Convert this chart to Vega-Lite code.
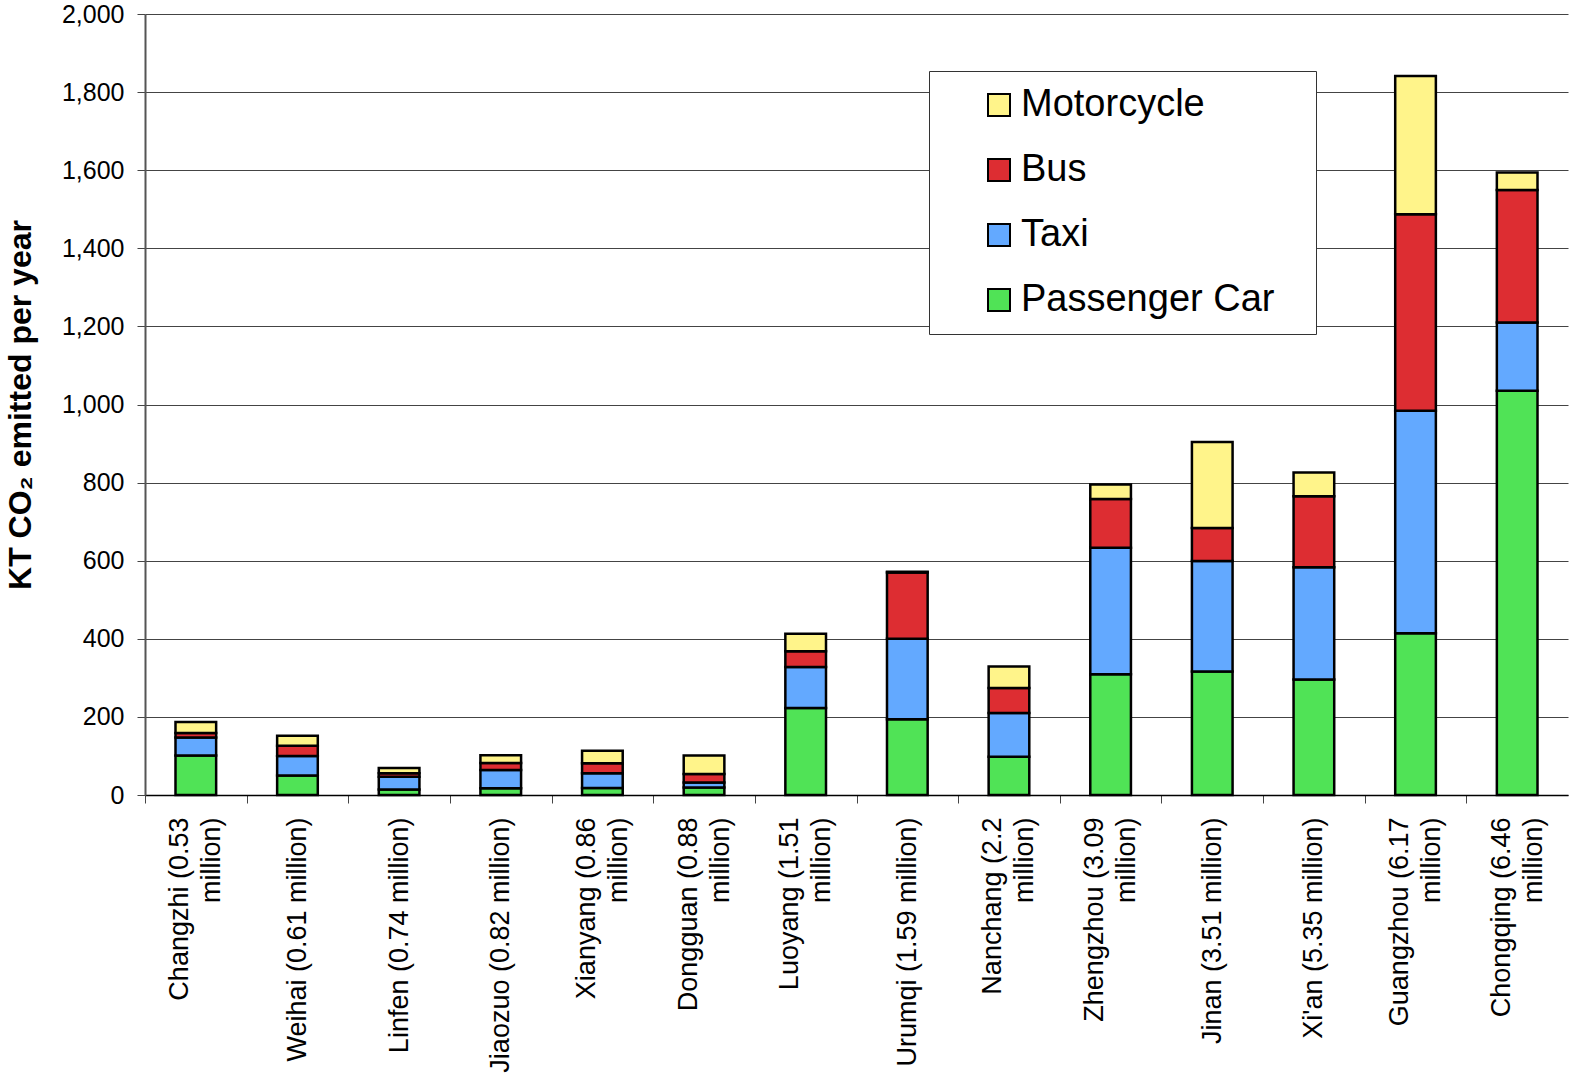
{
  "$schema": "https://vega.github.io/schema/vega-lite/v6.json",
  "autosize": {"type": "none"},
  "width": 1423,
  "height": 781,
  "padding": {"left": 145, "top": 14, "right": 4, "bottom": 283},
  "background": "white",
  "config": {
    "font": "Liberation Sans",
    "view": {"stroke": null}
  },
  "data": {
    "values": [
      {"city": "Changzhi (0.53\nmillion)", "type": "Passenger Car", "kt": 101},
      {"city": "Changzhi (0.53\nmillion)", "type": "Taxi", "kt": 46},
      {"city": "Changzhi (0.53\nmillion)", "type": "Bus", "kt": 12},
      {"city": "Changzhi (0.53\nmillion)", "type": "Motorcycle", "kt": 28},
      {"city": "Weihai (0.61 million)", "type": "Passenger Car", "kt": 50},
      {"city": "Weihai (0.61 million)", "type": "Taxi", "kt": 50},
      {"city": "Weihai (0.61 million)", "type": "Bus", "kt": 26},
      {"city": "Weihai (0.61 million)", "type": "Motorcycle", "kt": 26},
      {"city": "Linfen (0.74 million)", "type": "Passenger Car", "kt": 14},
      {"city": "Linfen (0.74 million)", "type": "Taxi", "kt": 33},
      {"city": "Linfen (0.74 million)", "type": "Bus", "kt": 9},
      {"city": "Linfen (0.74 million)", "type": "Motorcycle", "kt": 13},
      {"city": "Jiaozuo (0.82 million)", "type": "Passenger Car", "kt": 17},
      {"city": "Jiaozuo (0.82 million)", "type": "Taxi", "kt": 47},
      {"city": "Jiaozuo (0.82 million)", "type": "Bus", "kt": 18},
      {"city": "Jiaozuo (0.82 million)", "type": "Motorcycle", "kt": 20},
      {"city": "Xianyang (0.86\nmillion)", "type": "Passenger Car", "kt": 18},
      {"city": "Xianyang (0.86\nmillion)", "type": "Taxi", "kt": 38},
      {"city": "Xianyang (0.86\nmillion)", "type": "Bus", "kt": 25},
      {"city": "Xianyang (0.86\nmillion)", "type": "Motorcycle", "kt": 32},
      {"city": "Dongguan (0.88\nmillion)", "type": "Passenger Car", "kt": 19},
      {"city": "Dongguan (0.88\nmillion)", "type": "Taxi", "kt": 13},
      {"city": "Dongguan (0.88\nmillion)", "type": "Bus", "kt": 22},
      {"city": "Dongguan (0.88\nmillion)", "type": "Motorcycle", "kt": 47},
      {"city": "Luoyang (1.51\nmillion)", "type": "Passenger Car", "kt": 223},
      {"city": "Luoyang (1.51\nmillion)", "type": "Taxi", "kt": 105},
      {"city": "Luoyang (1.51\nmillion)", "type": "Bus", "kt": 40},
      {"city": "Luoyang (1.51\nmillion)", "type": "Motorcycle", "kt": 45},
      {"city": "Urumqi (1.59 million)", "type": "Passenger Car", "kt": 194},
      {"city": "Urumqi (1.59 million)", "type": "Taxi", "kt": 206},
      {"city": "Urumqi (1.59 million)", "type": "Bus", "kt": 170},
      {"city": "Urumqi (1.59 million)", "type": "Motorcycle", "kt": 2},
      {"city": "Nanchang (2.2\nmillion)", "type": "Passenger Car", "kt": 98},
      {"city": "Nanchang (2.2\nmillion)", "type": "Taxi", "kt": 112},
      {"city": "Nanchang (2.2\nmillion)", "type": "Bus", "kt": 64},
      {"city": "Nanchang (2.2\nmillion)", "type": "Motorcycle", "kt": 55},
      {"city": "Zhengzhou (3.09\nmillion)", "type": "Passenger Car", "kt": 309},
      {"city": "Zhengzhou (3.09\nmillion)", "type": "Taxi", "kt": 324},
      {"city": "Zhengzhou (3.09\nmillion)", "type": "Bus", "kt": 125},
      {"city": "Zhengzhou (3.09\nmillion)", "type": "Motorcycle", "kt": 37},
      {"city": "Jinan (3.51 million)", "type": "Passenger Car", "kt": 316},
      {"city": "Jinan (3.51 million)", "type": "Taxi", "kt": 283},
      {"city": "Jinan (3.51 million)", "type": "Bus", "kt": 85},
      {"city": "Jinan (3.51 million)", "type": "Motorcycle", "kt": 220},
      {"city": "Xi'an  (5.35 million)", "type": "Passenger Car", "kt": 296},
      {"city": "Xi'an  (5.35 million)", "type": "Taxi", "kt": 287},
      {"city": "Xi'an  (5.35 million)", "type": "Bus", "kt": 182},
      {"city": "Xi'an  (5.35 million)", "type": "Motorcycle", "kt": 61},
      {"city": "Guangzhou (6.17\nmillion)", "type": "Passenger Car", "kt": 414},
      {"city": "Guangzhou (6.17\nmillion)", "type": "Taxi", "kt": 570},
      {"city": "Guangzhou (6.17\nmillion)", "type": "Bus", "kt": 503},
      {"city": "Guangzhou (6.17\nmillion)", "type": "Motorcycle", "kt": 354},
      {"city": "Chongqing (6.46\nmillion)", "type": "Passenger Car", "kt": 1035},
      {"city": "Chongqing (6.46\nmillion)", "type": "Taxi", "kt": 175},
      {"city": "Chongqing (6.46\nmillion)", "type": "Bus", "kt": 339},
      {"city": "Chongqing (6.46\nmillion)", "type": "Motorcycle", "kt": 45}
    ]
  },
  "transform": [
    {"calculate": "indexof(['Passenger Car', 'Taxi', 'Bus', 'Motorcycle'], datum.type)", "as": "stackOrder"}
  ],
  "mark": {"type": "bar", "stroke": "black", "strokeWidth": 2.5},
  "encoding": {
    "x": {
      "field": "city",
      "type": "nominal",
      "sort": null,
      "scale": {"paddingInner": 0.6, "paddingOuter": 0.3},
      "axis": {
        "title": null,
        "labelAngle": -90,
        "labelAlign": "right",
        "labelBaseline": {"condition": {"test": "indexof(datum.value, '\\n') >= 0", "value": "line-bottom"}, "value": "middle"},
        "labelFontSize": 27,
        "labelColor": "black",
        "labelLineHeight": 32,
        "labelExpr": "split(datum.label, '\\n')",
        "labelPadding": 14,
        "labelLimit": 400,
        "tickOffset": -50.8,
        "labelOffset": 50.8,
        "tickSize": 8,
        "tickColor": "#444",
        "tickWidth": 1,
        "domainColor": "black",
        "domainWidth": 1.5
      }
    },
    "y": {
      "field": "kt",
      "type": "quantitative",
      "stack": "zero",
      "scale": {"domain": [0, 2000], "nice": false},
      "axis": {
        "title": "KT CO₂ emitted per year",
        "titleFontSize": 32,
        "titleFontWeight": "bold",
        "titleColor": "black",
        "titlePadding": 24,
        "values": [0, 200, 400, 600, 800, 1000, 1200, 1400, 1600, 1800, 2000],
        "format": ",d",
        "labelFontSize": 25,
        "labelColor": "black",
        "labelPadding": 13,
        "tickSize": 8,
        "tickColor": "#444",
        "domainColor": "#555",
        "domainWidth": 2,
        "grid": true,
        "gridColor": "#444",
        "gridWidth": 1
      }
    },
    "order": {"field": "stackOrder", "type": "quantitative", "sort": "ascending"},
    "color": {
      "field": "type",
      "type": "nominal",
      "scale": {
        "domain": ["Passenger Car", "Taxi", "Bus", "Motorcycle"],
        "range": ["#50E356", "#63A9FF", "#DD2D32", "#FFF48A"]
      },
      "legend": {
        "title": " ",
        "titleOrient": "right",
        "titlePadding": 27,
        "titleFontSize": 20,
        "values": ["Motorcycle", "Bus", "Taxi", "Passenger Car"],
        "orient": "none",
        "legendX": 784,
        "legendY": 57,
        "direction": "vertical",
        "symbolType": "square",
        "symbolSize": 484,
        "symbolStrokeColor": "black",
        "symbolStrokeWidth": 2,
        "symbolOffset": 36,
        "labelFontSize": 38,
        "labelColor": "black",
        "labelOffset": 3,
        "labelLimit": 400,
        "rowPadding": 27,
        "padding": 15,
        "strokeColor": "#333",
        "fillColor": "white"
      }
    }
  }
}
